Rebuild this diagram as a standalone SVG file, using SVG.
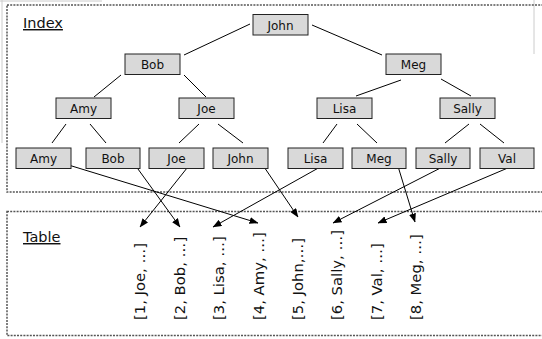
<svg xmlns="http://www.w3.org/2000/svg" width="542" height="339" viewBox="0 0 542 339">
<defs>
<marker id="ah" markerWidth="9" markerHeight="7" refX="8.5" refY="3.5" orient="auto" markerUnits="userSpaceOnUse">
<path d="M0,0 L9,3.5 L0,7 z" fill="#000"/>
</marker>
<style>
.frame{fill:none;stroke:#555;stroke-width:1.5;stroke-dasharray:2,1.2}
.node rect{fill:#d9d9d9;stroke:#222;stroke-width:1}
.node text{font-family:"DejaVu Sans",Verdana,sans-serif;font-size:12px;fill:#111;text-anchor:middle}
.title{font-family:"DejaVu Sans",Verdana,sans-serif;font-size:14.5px;fill:#111;text-decoration:underline}
.entry{font-family:"DejaVu Sans",Verdana,sans-serif;font-size:14.8px;fill:#111}
.edge{stroke:#000;stroke-width:1;fill:none}
.arr{stroke:#000;stroke-width:1;fill:none;marker-end:url(#ah)}
.art{stroke:#ccc;stroke-width:1;fill:none}
</style>
</defs>
<rect width="542" height="339" fill="#fff"/>
<g id="artifacts">
<line class="art" x1="0" y1="1" x2="102" y2="1"/>
<line class="art" x1="2" y1="0" x2="2" y2="143"/>
<line class="art" x1="534" y1="0" x2="534" y2="54"/>
</g>
<g id="index-frame">
<rect class="frame" x="7" y="5" width="600" height="187"/>
<text class="title" x="23" y="28">Index</text>
</g>
<g id="table-frame">
<rect class="frame" x="7" y="211.5" width="600" height="124"/>
<text class="title" x="23" y="242">Table</text>
</g>
<g id="connectors">
<line class="edge" x1="250" y1="24" x2="184" y2="55"/>
<line class="edge" x1="312" y1="25" x2="382" y2="55"/>
<line class="edge" x1="121" y1="75" x2="94" y2="97"/>
<line class="edge" x1="184" y1="75" x2="206" y2="97"/>
<line class="edge" x1="401" y1="80" x2="356" y2="96"/>
<line class="edge" x1="441" y1="79" x2="471" y2="96"/>
<line class="edge" x1="66" y1="124" x2="52" y2="143"/>
<line class="edge" x1="90" y1="124" x2="106" y2="143"/>
<line class="edge" x1="199" y1="124" x2="179" y2="143"/>
<line class="edge" x1="218" y1="124" x2="243" y2="143"/>
<line class="edge" x1="337" y1="124" x2="323" y2="143"/>
<line class="edge" x1="357" y1="124" x2="377" y2="143"/>
<line class="edge" x1="469" y1="124" x2="445" y2="143"/>
<line class="edge" x1="480" y1="124" x2="504" y2="143"/>
<line class="arr" x1="62" y1="163" x2="258" y2="223"/>
<line class="arr" x1="130" y1="158" x2="180" y2="227"/>
<line class="arr" x1="195" y1="158" x2="140" y2="227"/>
<line class="arr" x1="258" y1="158" x2="298" y2="217"/>
<line class="arr" x1="338" y1="157" x2="213" y2="227"/>
<line class="arr" x1="397" y1="163" x2="415" y2="222"/>
<line class="arr" x1="460" y1="158" x2="333" y2="223"/>
<line class="arr" x1="529" y1="159" x2="378" y2="223"/>
</g>
<g id="n-john" class="node"><rect x="253" y="14.5" width="55" height="20.5"/><text x="280.5" y="29.5">John</text></g>
<g id="n-bob" class="node"><rect x="125" y="54" width="55" height="20.5"/><text x="152.5" y="69">Bob</text></g>
<g id="n-meg" class="node"><rect x="386" y="54" width="55" height="20.5"/><text x="413.5" y="69">Meg</text></g>
<g id="n-amy" class="node"><rect x="56" y="98" width="55" height="20.5"/><text x="83.5" y="113">Amy</text></g>
<g id="n-joe" class="node"><rect x="179" y="98" width="55" height="20.5"/><text x="206.5" y="113">Joe</text></g>
<g id="n-lisa" class="node"><rect x="317" y="98" width="55" height="20.5"/><text x="344.5" y="113">Lisa</text></g>
<g id="n-sally" class="node"><rect x="440" y="98" width="55" height="20.5"/><text x="467.5" y="113">Sally</text></g>
<g id="l-amy" class="node"><rect x="16" y="148" width="55" height="20.5"/><text x="43.5" y="163">Amy</text></g>
<g id="l-bob" class="node"><rect x="86" y="148" width="54" height="20.5"/><text x="113" y="163">Bob</text></g>
<g id="l-joe" class="node"><rect x="149" y="148" width="55" height="20.5"/><text x="176.5" y="163">Joe</text></g>
<g id="l-john" class="node"><rect x="213" y="148" width="55" height="20.5"/><text x="240.5" y="163">John</text></g>
<g id="l-lisa" class="node"><rect x="288" y="148" width="55" height="20.5"/><text x="315.5" y="163">Lisa</text></g>
<g id="l-meg" class="node"><rect x="352" y="148" width="54" height="20.5"/><text x="379" y="163">Meg</text></g>
<g id="l-sally" class="node"><rect x="416" y="148" width="54" height="20.5"/><text x="443" y="163">Sally</text></g>
<g id="l-val" class="node"><rect x="480" y="148" width="54" height="20.5"/><text x="507" y="163">Val</text></g>
<g id="entries">
<text class="entry" transform="translate(145,320) rotate(-90)">[1, Joe, …]</text>
<text class="entry" transform="translate(184.5,320) rotate(-90)">[2, Bob, …]</text>
<text class="entry" transform="translate(224,320) rotate(-90)">[3, Lisa, …]</text>
<text class="entry" transform="translate(263.5,320) rotate(-90)">[4, Amy, …]</text>
<text class="entry" transform="translate(303,320) rotate(-90)">[5, John,…]</text>
<text class="entry" transform="translate(342,320) rotate(-90)">[6, Sally, …]</text>
<text class="entry" transform="translate(381.5,320) rotate(-90)">[7, Val, …]</text>
<text class="entry" transform="translate(421,320) rotate(-90)">[8, Meg, …]</text>
</g>
</svg>
